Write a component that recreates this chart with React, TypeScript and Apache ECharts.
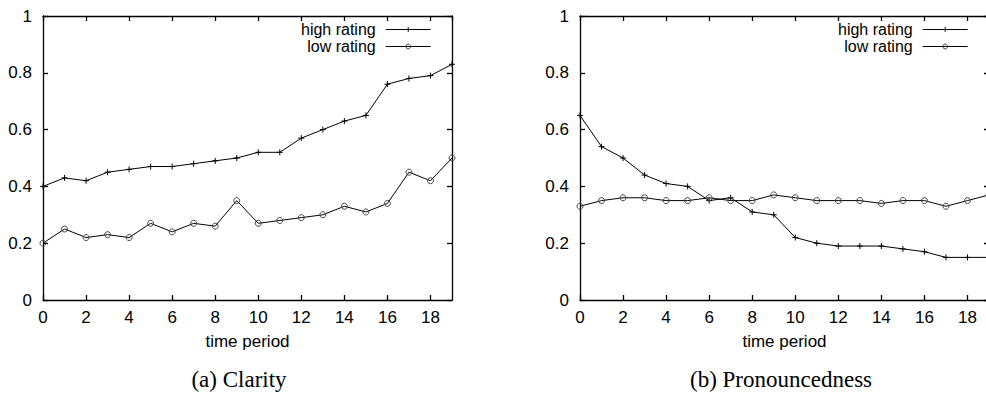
import React, { useEffect, useRef } from "react";
import * as echarts from "echarts";

const timePeriods = Array.from({ length: 20 }, (_, i) => i);
const clarityHigh = [0.40, 0.43, 0.42, 0.45, 0.46, 0.47, 0.47, 0.48, 0.49, 0.50, 0.52, 0.52, 0.57, 0.60, 0.63, 0.65, 0.76, 0.78, 0.79, 0.83];
const clarityLow = [0.20, 0.25, 0.22, 0.23, 0.22, 0.27, 0.24, 0.27, 0.26, 0.35, 0.27, 0.28, 0.29, 0.30, 0.33, 0.31, 0.34, 0.45, 0.42, 0.50];
const pronHigh = [0.65, 0.54, 0.50, 0.44, 0.41, 0.40, 0.35, 0.36, 0.31, 0.30, 0.22, 0.20, 0.19, 0.19, 0.19, 0.18, 0.17, 0.15, 0.15, 0.15];
const pronLow = [0.33, 0.35, 0.36, 0.36, 0.35, 0.35, 0.36, 0.35, 0.35, 0.37, 0.36, 0.35, 0.35, 0.35, 0.34, 0.35, 0.35, 0.33, 0.35, 0.37];
const seriesNames = ["high rating", "low rating"];
const captions = ["(a) Clarity", "(b) Pronouncedness"];
const xAxisName = "time period";

const FONT = "Liberation Sans, Arial, sans-serif";
const FS = 17;
const PLUS = "path://M0,-1L0,1M-1,0L1,0";

export default function App() {
  const ref = useRef<HTMLDivElement>(null);
  useEffect(() => {
    if (!ref.current) return;
    const chart = echarts.init(ref.current, null, { renderer: "svg" });
    const grids = [
      { left: 43, top: 16, width: 409, height: 284 },
      { left: 580, top: 16, width: 409, height: 284 },
    ];
    const lineStyleAxis = { color: "#000", width: 1.3 };
    const xAxes: any[] = [];
    const yAxes: any[] = [];
    grids.forEach((_, gi) => {
      xAxes.push({
        type: "value", gridIndex: gi, min: 0, max: 19, interval: 2, position: "bottom",
        name: xAxisName, nameLocation: "middle", nameGap: 33,
        nameTextStyle: { fontFamily: FONT, fontSize: FS, color: "#000" },
        axisLine: { show: true, onZero: false, lineStyle: lineStyleAxis },
        axisTick: { show: true, inside: true, length: 5, lineStyle: lineStyleAxis },
        axisLabel: { fontFamily: FONT, fontSize: FS, color: "#000", margin: 9, showMaxLabel: false },
        splitLine: { show: false },
      });
      xAxes.push({
        type: "value", gridIndex: gi, min: 0, max: 19, interval: 2, position: "top",
        axisLine: { show: true, onZero: false, lineStyle: lineStyleAxis },
        axisTick: { show: true, inside: true, length: 5, lineStyle: lineStyleAxis },
        axisLabel: { show: false },
        splitLine: { show: false },
      });
      yAxes.push({
        type: "value", gridIndex: gi, min: 0, max: 1, interval: 0.2, position: "left",
        axisLine: { show: true, onZero: false, lineStyle: lineStyleAxis },
        axisTick: { show: true, inside: true, length: 5, lineStyle: lineStyleAxis },
        axisLabel: { fontFamily: FONT, fontSize: FS, color: "#000", margin: 11, formatter: (v: number) => String(+v.toFixed(1)) },
        splitLine: { show: false },
      });
      yAxes.push({
        type: "value", gridIndex: gi, min: 0, max: 1, interval: 0.2, position: "right",
        axisLine: { show: true, onZero: false, lineStyle: lineStyleAxis },
        axisTick: { show: true, inside: true, length: 5, lineStyle: lineStyleAxis },
        axisLabel: { show: false },
        splitLine: { show: false },
      });
    });
    const mk = (gi: number, name: string, vals: number[], plus: boolean) => ({
      type: "line", name, xAxisIndex: gi * 2, yAxisIndex: gi * 2,
      data: vals.map((v, i) => [timePeriods[i], v]),
      symbol: plus ? PLUS : "circle",
      symbolSize: plus ? 6 : 6,
      showSymbol: true,
      lineStyle: { color: "#000", width: 1 },
      itemStyle: plus
        ? { color: "none", borderColor: "#000", borderWidth: 1 }
        : { color: "none", borderColor: "#444", borderWidth: 1 },
      emphasis: { disabled: true },
      clip: false,
    });
    const legendBase = {
      orient: "vertical", align: "right", itemWidth: 45, itemHeight: 6, itemGap: 0,
      textStyle: { fontFamily: FONT, fontSize: 16, color: "#000", lineHeight: 17, padding: [0, 5, 0, 0] },
      lineStyle: { width: 1, color: "#000" },
      itemStyle: { borderWidth: 1 },
      data: seriesNames, top: 16, selectedMode: false,
    };
    chart.setOption({
      animation: false,
      backgroundColor: "#fff",
      grid: grids,
      xAxis: xAxes,
      yAxis: yAxes,
      legend: [
        { ...legendBase, left: 296 },
        { ...legendBase, left: 833 },
      ],
      series: [
        mk(0, seriesNames[0], clarityHigh, true),
        mk(0, seriesNames[1], clarityLow, false),
        mk(1, seriesNames[0], pronHigh, true),
        mk(1, seriesNames[1], pronLow, false),
      ],
      graphic: [
        { type: "text", x: 239, y: 379, style: { text: captions[0], font: "23px 'Liberation Serif', serif", fill: "#000", textAlign: "center", textVerticalAlign: "middle" } },
        { type: "text", x: 781, y: 379, style: { text: captions[1], font: "23px 'Liberation Serif', serif", fill: "#000", textAlign: "center", textVerticalAlign: "middle" } },
      ],
    });
    return () => chart.dispose();
  }, []);
  return (
    <div style={{ position: "fixed", left: 0, top: 0, width: 986, height: 403, overflow: "hidden", background: "#fff" }}>
      <div ref={ref} style={{ width: 992, height: 403 }} />
    </div>
  );
}
